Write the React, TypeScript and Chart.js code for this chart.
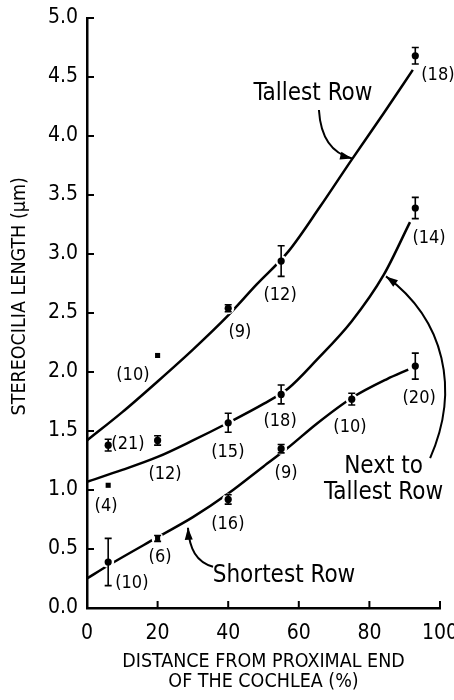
import React, { useEffect, useRef } from 'react';
import { Chart, registerables } from 'chart.js';

Chart.register(...registerables);

const FONT = '"DejaVu Sans Condensed", "Liberation Sans Narrow", "DejaVu Sans", sans-serif';

// Axis ticks
const xTickValues = [0, 20, 40, 60, 80, 100];
const xTickLabels = ['0', '20', '40', '60', '80', '100'];
const yTickValues = [0, 0.5, 1, 1.5, 2, 2.5, 3, 3.5, 4, 4.5, 5];
const yTickLabels = ['0.0', '0.5', '1.0', '1.5', '2.0', '2.5', '3.0', '3.5', '4.0', '4.5', '5.0'];

// Measured points (mean ± error, n)
const tallestX = [6, 20, 40, 55, 93];
const tallestY = [1.38, 2.14, 2.54, 2.94, 4.68];
const tallestErr = [0.05, 0, 0.03, 0.13, 0.07];
const tallestN = ['(21)', '(10)', '(9)', '(12)', '(18)'];

const nextX = [6, 20, 40, 55, 93];
const nextY = [1.04, 1.42, 1.57, 1.81, 3.39];
const nextErr = [0, 0.04, 0.08, 0.08, 0.09];
const nextN = ['(4)', '(12)', '(15)', '(18)', '(14)'];

const shortX = [6, 20, 40, 55, 75, 93];
const shortY = [0.39, 0.59, 0.92, 1.35, 1.77, 2.05];
const shortErr = [0.2, 0.025, 0.04, 0.035, 0.05, 0.11];
const shortN = ['(10)', '(6)', '(16)', '(9)', '(10)', '(20)'];

// Fitted curves
const tallestCurveX = [0, 10, 20, 30, 40, 48, 57, 66, 75, 84, 92.3];
const tallestCurveY = [1.42, 1.66, 1.92, 2.19, 2.48, 2.74, 3.02, 3.4, 3.8, 4.19, 4.56];
const nextCurveX = [0, 10, 20, 30, 40, 50, 57, 65, 75, 84, 91.5];
const nextCurveY = [1.07, 1.17, 1.28, 1.42, 1.57, 1.73, 1.86, 2.1, 2.43, 2.82, 3.27];
const shortCurveX = [0, 6, 20, 30, 40, 50, 57, 65, 75, 85, 91];
const shortCurveY = [0.25, 0.36, 0.6, 0.77, 0.97, 1.2, 1.36, 1.56, 1.78, 1.94, 2.02];

// Marker shapes (styling, kept apart from the values)
const tallestShapes = ['circle', 'rect', 'circle', 'circle', 'circle'];
const nextShapes = ['rect', 'circle', 'circle', 'circle', 'circle'];
const shortShapes = ['circle', 'rect', 'circle', 'circle', 'circle', 'circle'];

// Annotation anchors in data coordinates
const tallestNPos = [[11.6, 1.39], [13.0, 1.97], [43.3, 2.34], [54.7, 2.65], [99.4, 4.51]];
const nextNPos = [[5.4, 0.86], [22.1, 1.13], [39.9, 1.32], [54.7, 1.58], [96.9, 3.13]];
const shortNPos = [[12.7, 0.21], [20.7, 0.43], [39.9, 0.71], [56.4, 1.14], [74.5, 1.53], [94.1, 1.78]];

const rowLabels = [
  { text: 'Tallest Row', at: [64.0, 4.36] },
  { text: 'Next to', at: [84.0, 1.2] },
  { text: 'Tallest Row', at: [84.0, 0.98] },
  { text: 'Shortest Row', at: [55.8, 0.27] },
];

// Arrows: cubic bezier control points in data coordinates
const arrows = [
  [[65.7, 4.22], [66.2, 3.98], [69.5, 3.85], [75.1, 3.81]],
  [[97.2, 1.27], [105.7, 1.85], [101.4, 2.44], [84.7, 2.81]],
  [[35.7, 0.35], [31.0, 0.39], [29.0, 0.5], [28.6, 0.68]],
];

const series = [
  { x: tallestX, y: tallestY, err: tallestErr, n: tallestN, pos: tallestNPos, shapes: tallestShapes },
  { x: nextX, y: nextY, err: nextErr, n: nextN, pos: nextNPos, shapes: nextShapes },
  { x: shortX, y: shortY, err: shortErr, n: shortN, pos: shortNPos, shapes: shortShapes },
];

const toXY = (xs: number[], ys: number[]) => xs.map((x, i) => ({ x, y: ys[i] }));

const overlayPlugin = {
  id: 'overlay',
  afterDatasetsDraw(chart: any) {
    const { ctx } = chart;
    const xs = chart.scales.x;
    const ys = chart.scales.y;
    const px = (v: number) => xs.getPixelForValue(v);
    const py = (v: number) => ys.getPixelForValue(v);
    ctx.save();
    ctx.strokeStyle = '#000';
    ctx.fillStyle = '#000';

    // inward tick marks
    ctx.lineWidth = 2;
    const ax = chart.chartArea.left;
    const ay = chart.chartArea.bottom;
    ys.ticks.forEach((t: any) => {
      const Y = py(t.value);
      ctx.beginPath();
      ctx.moveTo(ax, Y);
      ctx.lineTo(ax + 7, Y);
      ctx.stroke();
    });
    xs.ticks.forEach((t: any) => {
      const X = px(t.value);
      ctx.beginPath();
      ctx.moveTo(X, ay);
      ctx.lineTo(X, ay - 7);
      ctx.stroke();
    });

    // error bars
    ctx.lineWidth = 1.6;
    series.forEach((s) => {
      s.x.forEach((xv, i) => {
        const e = s.err[i];
        if (!e) return;
        const X = px(xv);
        const y1 = py(s.y[i] + e);
        const y2 = py(s.y[i] - e);
        ctx.beginPath();
        ctx.moveTo(X, y1);
        ctx.lineTo(X, y2);
        ctx.moveTo(X - 3.5, y1);
        ctx.lineTo(X + 3.5, y1);
        ctx.moveTo(X - 3.5, y2);
        ctx.lineTo(X + 3.5, y2);
        ctx.stroke();
      });
    });

    // n labels
    ctx.textAlign = 'center';
    ctx.textBaseline = 'middle';
    ctx.font = `18px ${FONT}`;
    series.forEach((s) => {
      s.n.forEach((label, i) => {
        const [lx, ly] = s.pos[i];
        ctx.fillText(label, px(lx), py(ly));
      });
    });

    // row labels
    ctx.font = `24px ${FONT}`;
    rowLabels.forEach((r) => {
      ctx.fillText(r.text, px(r.at[0]), py(r.at[1]));
    });

    // arrows
    ctx.lineWidth = 2;
    arrows.forEach((a) => {
      const p = a.map(([dx, dy]) => [px(dx), py(dy)]);
      ctx.beginPath();
      ctx.moveTo(p[0][0], p[0][1]);
      ctx.bezierCurveTo(p[1][0], p[1][1], p[2][0], p[2][1], p[3][0], p[3][1]);
      ctx.stroke();
      const dxv = p[3][0] - p[2][0];
      const dyv = p[3][1] - p[2][1];
      const len = Math.hypot(dxv, dyv) || 1;
      const ux = dxv / len;
      const uy = dyv / len;
      const L = 12;
      const W = 4;
      const bx = p[3][0] - ux * L;
      const by = p[3][1] - uy * L;
      ctx.beginPath();
      ctx.moveTo(p[3][0], p[3][1]);
      ctx.lineTo(bx - uy * W, by + ux * W);
      ctx.lineTo(bx + uy * W, by - ux * W);
      ctx.closePath();
      ctx.fill();
    });

    ctx.restore();
  },
};

export default function App() {
  const canvasRef = useRef<HTMLCanvasElement | null>(null);

  useEffect(() => {
    const canvas = canvasRef.current;
    if (!canvas) return;

    const allPoints = [
      ...toXY(tallestX, tallestY),
      ...toXY(nextX, nextY),
      ...toXY(shortX, shortY),
    ];
    const curveStyle = {
      type: 'line' as const,
      borderColor: '#000',
      borderWidth: 2.5,
      pointRadius: 0,
      fill: false,
      cubicInterpolationMode: 'monotone' as const,
      order: 3,
    };
    const markerStyle = (shapes: string[]) => ({
      type: 'scatter' as const,
      pointRadius: 3.6,
      pointStyle: shapes,
      backgroundColor: '#000',
      borderColor: '#000',
      borderWidth: 0,
      order: 1,
    });

    const chart = new Chart(canvas, {
      type: 'scatter',
      data: {
        datasets: [
          { ...curveStyle, label: 'Tallest Row fit', data: toXY(tallestCurveX, tallestCurveY) },
          { ...curveStyle, label: 'Next to Tallest Row fit', data: toXY(nextCurveX, nextCurveY) },
          { ...curveStyle, label: 'Shortest Row fit', data: toXY(shortCurveX, shortCurveY) },
          {
            type: 'scatter',
            label: 'halo',
            data: allPoints,
            pointRadius: 6,
            backgroundColor: '#fff',
            borderWidth: 0,
            order: 2,
          },
          { ...markerStyle(tallestShapes), label: 'Tallest Row', data: toXY(tallestX, tallestY) },
          { ...markerStyle(nextShapes), label: 'Next to Tallest Row', data: toXY(nextX, nextY) },
          { ...markerStyle(shortShapes), label: 'Shortest Row', data: toXY(shortX, shortY) },
        ] as any,
      },
      options: {
        responsive: false,
        animation: false,
        devicePixelRatio: 1,
        layout: { padding: { left: 8, top: 18, right: 14, bottom: 8 } },
        plugins: {
          legend: { display: false },
          tooltip: { enabled: false },
        },
        scales: {
          x: {
            type: 'linear',
            min: 0,
            max: 100,
            grid: { display: false, drawTicks: false },
            border: { display: true, width: 2.5, color: '#000' },
            afterBuildTicks: (s: any) => {
              s.ticks = xTickValues.map((v) => ({ value: v }));
            },
            ticks: {
              color: '#000',
              font: { family: FONT, size: 21 },
              padding: 13,
              maxRotation: 0,
              autoSkip: false,
              callback: (_v: any, i: number) => xTickLabels[i],
            },
            title: {
              display: true,
              text: ['DISTANCE FROM PROXIMAL END', 'OF THE COCHLEA (%)'],
              color: '#000',
              font: { family: FONT, size: 19.5, lineHeight: 1.04 },
              padding: { top: 0, bottom: 0 },
            },
            afterFit: (s: any) => {
              s.height = 84;
              s.paddingLeft = 0;
              s.paddingRight = 0;
            },
          },
          y: {
            type: 'linear',
            min: 0,
            max: 5,
            grid: { display: false, drawTicks: false },
            border: { display: true, width: 2.5, color: '#000' },
            afterBuildTicks: (s: any) => {
              s.ticks = yTickValues.map((v) => ({ value: v }));
            },
            ticks: {
              color: '#000',
              font: { family: FONT, size: 21 },
              padding: 9,
              autoSkip: false,
              callback: (_v: any, i: number) => yTickLabels[i],
            },
            title: {
              display: true,
              text: '      STEREOCILIA LENGTH (µm)',
              color: '#000',
              font: { family: FONT, size: 19.5, lineHeight: 1.04 },
              padding: { top: 2, bottom: 0 },
            },
            afterFit: (s: any) => {
              s.width = 79;
              s.paddingTop = 0;
              s.paddingBottom = 0;
            },
          },
        },
      },
      plugins: [overlayPlugin],
    });

    return () => chart.destroy();
  }, []);

  return (
    <div style={{ position: 'absolute', left: 0, top: 0, width: 454, height: 700, background: '#fff' }}>
      <canvas ref={canvasRef} width={454} height={700} style={{ display: 'block' }} />
    </div>
  );
}
